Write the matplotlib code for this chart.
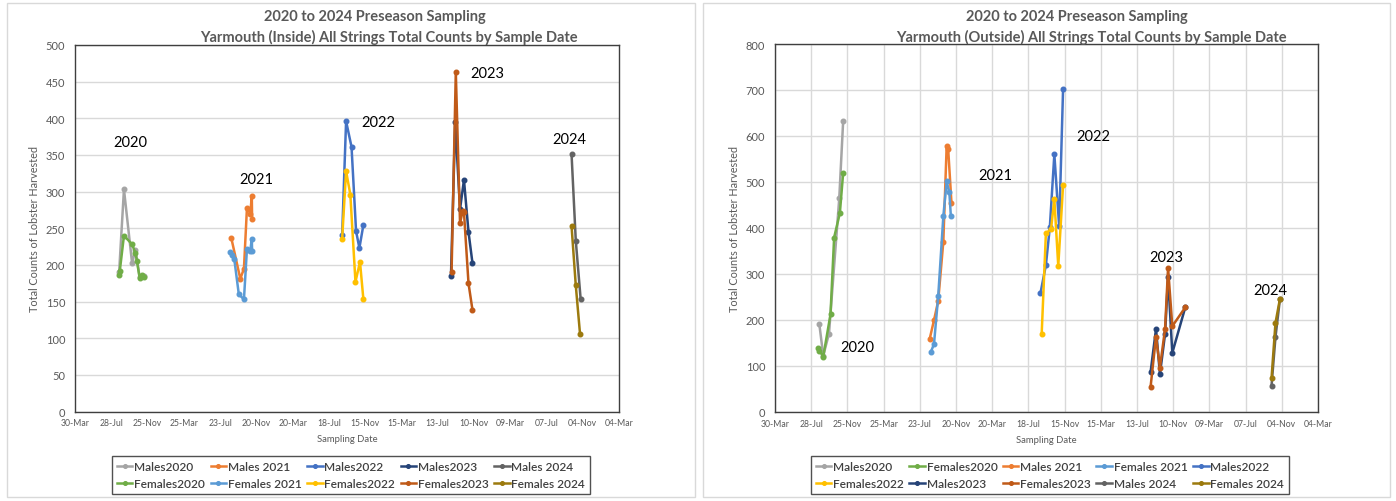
import datetime as dt
import matplotlib
matplotlib.use("Agg")
import matplotlib.pyplot as plt
import matplotlib.dates as mdates
from matplotlib.patches import Rectangle

plt.rcParams['font.family'] = ['Lato', 'DejaVu Sans']

# ---------------- series definitions ----------------
series_names = ["Males2020", "Females2020", "Males 2021", "Females 2021",
                "Males2022", "Females2022", "Males2023", "Females2023",
                "Males 2024", "Females 2024"]
series_colors = ["#A5A5A5", "#70AD47", "#ED7D31", "#5B9BD5", "#4472C4",
                 "#FFC000", "#264478", "#C05A18", "#636363", "#9C7A0E"]

# ---------------- Yarmouth (Inside) ----------------
in_m2020_dates = ["2020-08-23", "2020-09-08", "2020-10-05", "2020-10-16", "2020-10-30", "2020-11-13"]
in_m2020_counts = [190, 303, 202, 221, 183, 185]
in_f2020_dates = ["2020-08-23", "2020-08-25", "2020-09-08", "2020-10-05", "2020-10-16",
                  "2020-10-21", "2020-10-30", "2020-11-06", "2020-11-13"]
in_f2020_counts = [186, 191, 240, 228, 216, 205, 182, 186, 184]

in_m2021_dates = ["2021-08-29", "2021-09-28", "2021-10-10", "2021-10-20", "2021-10-31", "2021-11-05", "2021-11-06"]
in_m2021_counts = [237, 181, 195, 278, 270, 294, 263]
in_f2021_dates = ["2021-08-26", "2021-09-02", "2021-09-08", "2021-09-23", "2021-10-10",
                  "2021-10-20", "2021-10-31", "2021-11-05", "2021-11-06"]
in_f2021_counts = [217, 213, 208, 160, 153, 222, 219, 236, 219]

in_m2022_dates = ["2022-08-31", "2022-09-13", "2022-10-01", "2022-10-16", "2022-10-27", "2022-11-09"]
in_m2022_counts = [241, 396, 361, 246, 223, 254]
in_f2022_dates = ["2022-08-31", "2022-09-13", "2022-09-27", "2022-10-14", "2022-10-29", "2022-11-09"]
in_f2022_counts = [236, 328, 296, 177, 204, 154]

in_m2023_dates = ["2023-08-26", "2023-09-09", "2023-09-25", "2023-10-08", "2023-10-23", "2023-11-05"]
in_m2023_counts = [185, 395, 276, 316, 245, 203]
in_f2023_dates = ["2023-08-28", "2023-09-11", "2023-09-25", "2023-10-04", "2023-10-08", "2023-10-23", "2023-11-05"]
in_f2023_counts = [190, 463, 257, 274, 272, 175, 139]

in_m2024_dates = ["2024-09-28", "2024-10-12", "2024-10-28"]
in_m2024_counts = [351, 233, 154]
in_f2024_dates = ["2024-09-28", "2024-10-12", "2024-10-26"]
in_f2024_counts = [253, 172, 106]

# ---------------- Yarmouth (Outside) ----------------
out_m2020_dates = ["2020-08-24", "2020-09-06", "2020-09-25", "2020-10-29", "2020-11-11"]
out_m2020_counts = [190, 122, 170, 464, 633]
out_f2020_dates = ["2020-08-21", "2020-08-24", "2020-09-06", "2020-09-30", "2020-10-12", "2020-10-31", "2020-11-11"]
out_f2020_counts = [138, 133, 120, 212, 379, 432, 520]

out_m2021_dates = ["2021-08-25", "2021-09-08", "2021-09-22", "2021-10-09", "2021-10-20", "2021-10-25", "2021-11-05"]
out_m2021_counts = [159, 199, 241, 370, 577, 572, 454]
out_f2021_dates = ["2021-08-28", "2021-09-08", "2021-09-22", "2021-10-09", "2021-10-20", "2021-10-29", "2021-11-03"]
out_f2021_counts = [129, 147, 251, 425, 501, 477, 425]

out_m2022_dates = ["2022-08-27", "2022-09-14", "2022-09-27", "2022-10-12", "2022-10-28", "2022-11-10"]
out_m2022_counts = [258, 319, 401, 560, 403, 703]
out_f2022_dates = ["2022-08-31", "2022-09-14", "2022-10-01", "2022-10-12", "2022-10-25", "2022-11-10"]
out_f2022_counts = [169, 388, 397, 462, 317, 493]

out_m2023_dates = ["2023-08-27", "2023-09-14", "2023-09-27", "2023-10-14", "2023-10-24", "2023-11-07", "2023-12-20"]
out_m2023_counts = [86, 180, 82, 169, 294, 128, 227]
out_f2023_dates = ["2023-08-27", "2023-09-14", "2023-09-27", "2023-10-14", "2023-10-24", "2023-11-07", "2023-12-20"]
out_f2023_counts = [54, 163, 96, 180, 313, 186, 227]

out_m2024_dates = ["2024-10-01", "2024-10-14", "2024-10-29"]
out_m2024_counts = [57, 162, 246]
out_f2024_dates = ["2024-10-01", "2024-10-14", "2024-10-29"]
out_f2024_counts = [73, 193, 246]

inside_series = [
    (in_m2020_dates, in_m2020_counts), (in_f2020_dates, in_f2020_counts),
    (in_m2021_dates, in_m2021_counts), (in_f2021_dates, in_f2021_counts),
    (in_m2022_dates, in_m2022_counts), (in_f2022_dates, in_f2022_counts),
    (in_m2023_dates, in_m2023_counts), (in_f2023_dates, in_f2023_counts),
    (in_m2024_dates, in_m2024_counts), (in_f2024_dates, in_f2024_counts),
]
outside_series = [
    (out_m2020_dates, out_m2020_counts), (out_f2020_dates, out_f2020_counts),
    (out_m2021_dates, out_m2021_counts), (out_f2021_dates, out_f2021_counts),
    (out_m2022_dates, out_m2022_counts), (out_f2022_dates, out_f2022_counts),
    (out_m2023_dates, out_m2023_counts), (out_f2023_dates, out_f2023_counts),
    (out_m2024_dates, out_m2024_counts), (out_f2024_dates, out_f2024_counts),
]

year_labels = ["2020", "2021", "2022", "2023", "2024"]
inside_label_pos = [(0.101, 0.735), (0.334, 0.634), (0.558, 0.790), (0.758, 0.923), (0.908, 0.743)]
outside_label_pos = [(0.151, 0.176), (0.405, 0.644), (0.586, 0.750), (0.720, 0.421), (0.913, 0.331)]

title_line1 = "2020 to 2024 Preseason Sampling"
inside_title2 = "Yarmouth (Inside) All Strings Total Counts by Sample Date"
outside_title2 = "Yarmouth (Outside) All Strings Total Counts by Sample Date"

axis_start = dt.date(2020, 3, 30)
axis_end = dt.date(2025, 3, 4)
tick_step_days = 120

TEXT_GREY = "#595959"
GRID_GREY = "#D9D9D9"


def to_dates(strs):
    return [dt.datetime.strptime(s, "%Y-%m-%d") for s in strs]


def draw_panel(fig, rect, series, ymax, ystep, vgrid, title2, label_pos,
               title_x, legend_order, legend_rect):
    ax = fig.add_axes(rect)
    for (d, c), name, col in zip(series, series_names, series_colors):
        ax.plot(to_dates(d), c, color=col, lw=1.8, marker="o", ms=3.3,
                label=name, solid_joinstyle="round", zorder=3)

    ax.set_xlim(axis_start, axis_end)
    ticks = [axis_start + dt.timedelta(days=tick_step_days * i)
             for i in range(int((axis_end - axis_start).days / tick_step_days) + 1)]
    ax.set_xticks(ticks)
    ax.xaxis.set_major_formatter(mdates.DateFormatter("%d-%b"))
    ax.set_ylim(0, ymax)
    ax.set_yticks(range(0, ymax + 1, ystep))

    ax.grid(axis="y", color=GRID_GREY, lw=1.0, zorder=0)
    if vgrid:
        ax.grid(axis="x", color=GRID_GREY, lw=1.0, zorder=0)
    ax.set_axisbelow(True)
    for sp in ax.spines.values():
        sp.set_color("#3F3F3F")
        sp.set_linewidth(1.0)

    ax.tick_params(axis="both", length=0, colors=TEXT_GREY)
    ax.tick_params(axis="y", labelsize=8, pad=7)
    ax.tick_params(axis="x", labelsize=6.2, pad=5)
    ax.set_xlabel("Sampling Date", fontsize=6.8, color=TEXT_GREY, labelpad=5)
    ax.set_ylabel("Total Counts of Lobster Harvested", fontsize=7.8,
                  color=TEXT_GREY, labelpad=4)

    for txt, (fx, fy) in zip(year_labels, label_pos):
        ax.text(fx, fy, txt, transform=ax.transAxes, ha="center", va="center",
                fontsize=10.5, color="black")

    fig.text(title_x[0], 1 - 17 / 502, title_line1, ha="center", va="center",
             fontsize=10.5, fontweight="bold", color=TEXT_GREY)
    fig.text(title_x[1], 1 - 37 / 502, title2, ha="center", va="center",
             fontsize=10.5, fontweight="bold", color=TEXT_GREY)

    handles, labels = ax.get_legend_handles_labels()
    handles = [handles[i] for i in legend_order]
    labels = [labels[i] for i in legend_order]
    leg = fig.legend(handles, labels, ncol=5, loc="center",
                     bbox_to_anchor=legend_rect, fontsize=8.6,
                     frameon=True, fancybox=False, edgecolor="#262626",
                     handlelength=1.3, handletextpad=0.15, columnspacing=0.45,
                     labelspacing=0.5, borderpad=0.4, markerscale=0.8)
    leg.get_frame().set_linewidth(1.0)
    for t in leg.get_texts():
        t.set_color("#404040")
        t.set_fontweight("semibold")
    return ax


W, H = 1396, 502
fig = plt.figure(figsize=(W / 100, H / 100), dpi=100)
fig.patch.set_facecolor("white")

# panel frames
for x0, x1 in [(7, 695), (703, 1390)]:
    fig.patches.append(Rectangle((x0 / W, 4 / H), (x1 - x0) / W, (H - 8) / H,
                                 transform=fig.transFigure, fill=False,
                                 edgecolor="#D9D9D9", lw=1.0))

# Inside: legend shows males on top row, females on bottom row
inside_order = list(range(10))
draw_panel(fig, [75 / W, 1 - 412.5 / H, 544 / W, 366.5 / H], inside_series,
           500, 50, False, inside_title2, inside_label_pos,
           (375 / W, 389 / W), inside_order,
           (351 / W, 1 - 476 / H, 0, 0))

# Outside: legend filled row by row
outside_order = [0, 5, 1, 6, 2, 7, 3, 8, 4, 9]
draw_panel(fig, [775 / W, 1 - 412.7 / H, 543 / W, 367.7 / H], outside_series,
           800, 100, True, outside_title2, outside_label_pos,
           (1077 / W, 1091 / W), outside_order,
           (1050 / W, 1 - 476 / H, 0, 0))

fig.savefig("out.png", dpi=100, facecolor="white")
